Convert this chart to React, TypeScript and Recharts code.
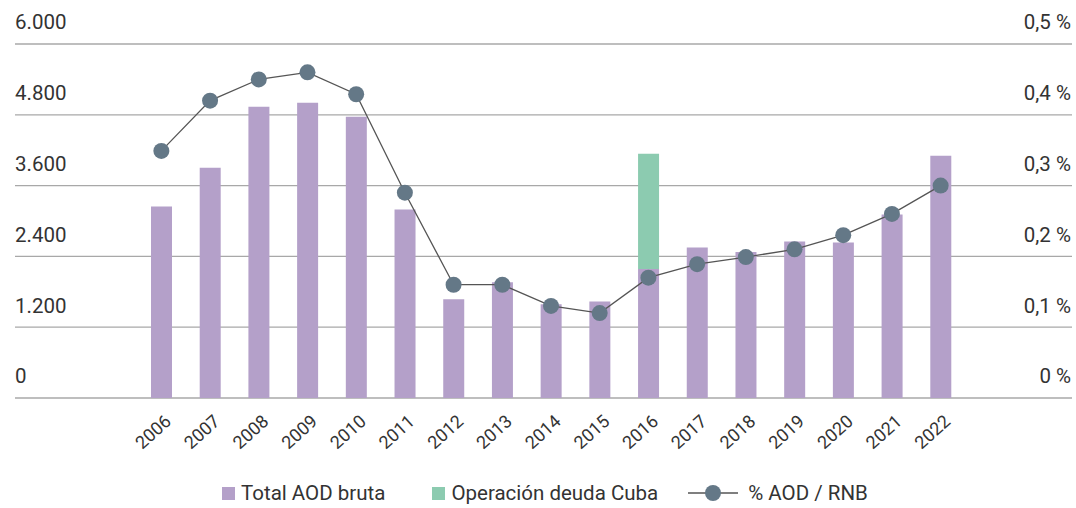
import React from "react";
import { Bar, CartesianGrid, ComposedChart, Line, XAxis, YAxis } from "recharts";

const PURPLE = "#b4a0c9";
const GREEN = "#8ccbb0";
const DOT = "#647887";
const LINE = "#555555";
const GRID = "#a8a8a8";
const TEXT = "#333333";
const FONT = "Roboto, 'Noto Sans', sans-serif";

const years = ["2006", "2007", "2008", "2009", "2010", "2011", "2012", "2013", "2014", "2015", "2016", "2017", "2018", "2019", "2020", "2021", "2022"];
const aodTotal = [3245, 3904, 4935, 5003, 4766, 3194, 1673, 1961, 1589, 1634, 2186, 2552, 2473, 2654, 2637, 3110, 4107];
const deudaCuba = [0, 0, 0, 0, 0, 0, 0, 0, 0, 0, 1955, 0, 0, 0, 0, 0, 0];
const pctRnb = [0.349, 0.42, 0.45, 0.46, 0.429, 0.29, 0.16, 0.16, 0.13, 0.12, 0.17, 0.189, 0.199, 0.21, 0.23, 0.26, 0.3];

const leftTicks = [0, 1200, 2400, 3600, 4800, 6000];
const rightTicks = [0, 0.1, 0.2, 0.3, 0.4, 0.5];

const data = years.map((y, i) => ({ year: y, total: aodTotal[i], cuba: deudaCuba[i], pct: pctRnb[i] }));

const thousands = (v: number) => String(v).replace(/\B(?=(\d{3})+(?!\d))/g, ".");
const pctFmt = (v: number) => (v === 0 ? "0 %" : `${v.toFixed(1).replace(".", ",")} %`);

// axis labels sit above their gridline, not beside it
function LeftTick(props: any) {
  const { y, payload } = props;
  return (
    <text x={15} y={y - 20} fill={TEXT} fontSize={20.5} fontFamily={FONT} textAnchor="start" dominantBaseline="middle">
      {thousands(payload.value)}
    </text>
  );
}

function RightTick(props: any) {
  const { y, payload } = props;
  return (
    <text x={1071} y={y - 20} fill={TEXT} fontSize={20.5} fontFamily={FONT} textAnchor="end" dominantBaseline="middle">
      {pctFmt(payload.value)}
    </text>
  );
}

function YearTick(props: any) {
  const { x, y, payload } = props;
  const ax = x + 11;
  const ay = y + 17;
  return (
    <text x={ax} y={ay} fill={TEXT} fontSize={18} fontFamily={FONT} textAnchor="end" transform={`rotate(-42 ${ax} ${ay})`}>
      {payload.value}
    </text>
  );
}

function ChartLegend() {
  return (
    <div
      style={{
        position: "absolute",
        left: 222,
        top: 481,
        display: "flex",
        alignItems: "center",
        fontFamily: FONT,
        fontSize: 20.5,
        color: TEXT,
        whiteSpace: "nowrap",
      }}
    >
      <span style={{ width: 13, height: 13, background: PURPLE, marginRight: 6 }} />
      <span style={{ marginRight: 47 }}>Total AOD bruta</span>
      <span style={{ width: 13, height: 13, background: GREEN, marginRight: 6 }} />
      <span style={{ marginRight: 30 }}>Operación deuda Cuba</span>
      <svg width={50} height={18} style={{ marginRight: 10 }}>
        <line x1={0} y1={9} x2={50} y2={9} stroke={LINE} strokeWidth={1.5} />
        <circle cx={25} cy={9} r={8} fill={DOT} />
      </svg>
      <span>% AOD / RNB</span>
    </div>
  );
}

export default function App() {
  return (
    <div style={{ position: "absolute", left: 0, top: 0, width: 1076, height: 508, background: "#fff" }}>
      <ComposedChart width={1076} height={508} data={data} margin={{ top: 44, right: 3, left: 14, bottom: 109 }}>
        <CartesianGrid vertical={false} stroke={GRID} strokeWidth={1.3} yAxisId="left" />
        <XAxis
          dataKey="year"
          axisLine={false}
          tickLine={false}
          interval={0}
          height={1}
          padding={{ left: 122, right: 107 }}
          tick={<YearTick />}
        />
        <YAxis
          yAxisId="left"
          orientation="left"
          width={1}
          domain={[0, 6000]}
          ticks={leftTicks}
          interval={0}
          axisLine={false}
          tickLine={false}
          tick={<LeftTick />}
        />
        <YAxis
          yAxisId="right"
          orientation="right"
          width={1}
          domain={[0, 0.5]}
          ticks={rightTicks}
          interval={0}
          axisLine={false}
          tickLine={false}
          tick={<RightTick />}
        />
        <Bar yAxisId="left" dataKey="total" stackId="a" fill={PURPLE} barSize={21} isAnimationActive={false} />
        <Bar yAxisId="left" dataKey="cuba" stackId="a" fill={GREEN} barSize={21} isAnimationActive={false} />
        <Line
          yAxisId="right"
          dataKey="pct"
          stroke={LINE}
          strokeWidth={1.3}
          dot={{ r: 8, fill: DOT, stroke: "none" }}
          activeDot={false}
          isAnimationActive={false}
        />
      </ComposedChart>
      <ChartLegend />
    </div>
  );
}
